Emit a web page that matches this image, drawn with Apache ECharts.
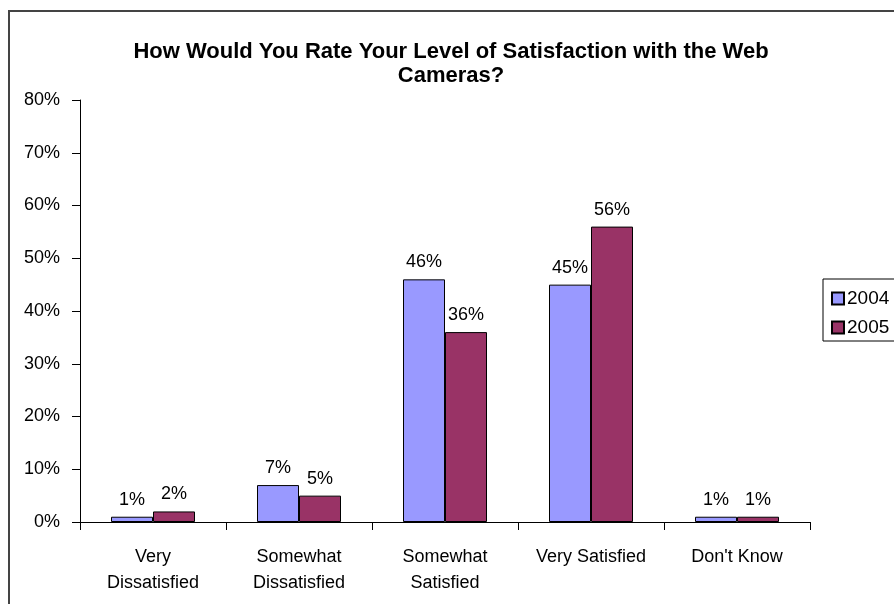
<!DOCTYPE html>
<html>
<head>
<meta charset="utf-8">
<script src="https://cdn.jsdelivr.net/npm/echarts@6/dist/echarts.min.js"></script>
<style>html,body{margin:0;padding:0;background:#fff;}#c{width:894px;height:604px;}</style>
</head>
<body>
<div id="c"></div>
<script>
const categories = ['Very\nDissatisfied', 'Somewhat\nDissatisfied', 'Somewhat\nSatisfied', 'Very Satisfied', "Don't Know"];
const values2004 = [1, 7, 46, 45, 1];
const values2005 = [2, 5, 36, 56, 1];
const seriesNames = ['2004', '2005'];
const titleText = 'How Would You Rate Your Level of Satisfaction with the Web\nCameras?';

const font = 'Liberation Sans, Arial, sans-serif';
const chart = echarts.init(document.getElementById('c'));
const labelCfg = {
  show: true, position: 'top', distance: 8,
  formatter: p => p.value + '%',
  color: '#000', fontFamily: font, fontSize: 18
};
chart.setOption({
  backgroundColor: '#fff',
  animation: false,
  graphic: [{
    type: 'rect', shape: { x: 9, y: 11, width: 1000, height: 1000 },
    style: { fill: 'none', stroke: '#444', lineWidth: 2 }, z: 100
  }],
  title: {
    text: titleText, left: 446, top: 35, textAlign: 'center',
    textStyle: { fontFamily: font, fontSize: 22, fontWeight: 'bold', color: '#000', lineHeight: 24 }
  },
  legend: {
    orient: 'vertical', left: 823, top: 279,
    data: seriesNames,
    itemWidth: 12, itemHeight: 12, itemGap: 10,
    padding: [10, 30, 4, 8],
    borderColor: '#000', borderWidth: 1,
    icon: 'rect',
    textStyle: { fontFamily: font, fontSize: 19, color: '#000', padding: [0, 0, 0, -2] }
  },
  grid: { left: 80, right: 84, top: 100, bottom: 82, containLabel: false },
  xAxis: {
    type: 'category', data: categories,
    axisLine: { lineStyle: { color: '#000', width: 1 } },
    axisTick: { show: true, length: 8, lineStyle: { color: '#000' } },
    axisLabel: { fontFamily: font, fontSize: 18, color: '#000', lineHeight: 26, margin: 22, interval: 0 }
  },
  yAxis: {
    type: 'value', min: 0, max: 80, interval: 10,
    axisLine: { show: true, lineStyle: { color: '#000', width: 1 } },
    axisTick: { show: true, length: 8, lineStyle: { color: '#000' } },
    splitLine: { show: false },
    axisLabel: { formatter: '{value}%', fontFamily: font, fontSize: 18, color: '#000', margin: 20 }
  },
  series: [
    {
      name: seriesNames[0], type: 'bar', data: values2004,
      barWidth: 42, barGap: '0%',
      itemStyle: { color: '#9999FF', borderColor: '#000', borderWidth: 1 },
      label: labelCfg
    },
    {
      name: seriesNames[1], type: 'bar', data: values2005,
      barWidth: 42,
      itemStyle: { color: '#993366', borderColor: '#000', borderWidth: 1 },
      label: labelCfg
    }
  ]
});
</script>
</body>
</html>
